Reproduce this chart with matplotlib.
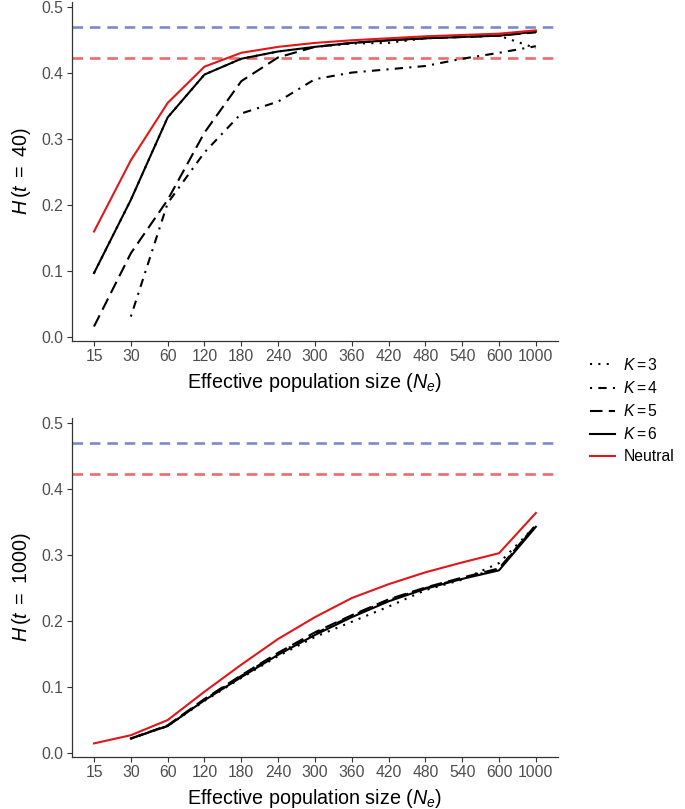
import numpy as np
import matplotlib
matplotlib.use('Agg')
import matplotlib.pyplot as plt

plt.rcParams['font.family'] = ['Liberation Sans', 'DejaVu Sans']
plt.rcParams['mathtext.fontset'] = 'custom'
plt.rcParams['mathtext.rm'] = 'Liberation Sans'
plt.rcParams['mathtext.it'] = 'Liberation Sans:italic'

# categories on x axis (effective population size)
ne_labels = ['15', '30', '60', '120', '180', '240', '300', '360', '420', '480', '540', '600', '1000']
nan = np.nan

# panel 1: H(t = 40)
neutral_40 = [0.160, 0.268, 0.355, 0.410, 0.431, 0.440, 0.446, 0.450, 0.453, 0.456, 0.458, 0.460, 0.465]
k6_40 = [0.097, 0.208, 0.333, 0.398, 0.422, 0.433, 0.440, 0.446, 0.450, 0.453, 0.455, 0.457, 0.463]
k5_40 = [0.016, 0.127, 0.208, 0.310, 0.388, 0.424, 0.440, 0.446, 0.450, 0.453, 0.455, 0.457, 0.462]
k4_40 = [nan, 0.031, 0.203, 0.280, 0.339, 0.357, 0.391, 0.401, 0.406, 0.411, 0.422, 0.431, 0.441]
k3_40 = [0.097, 0.208, 0.333, 0.398, 0.422, 0.433, 0.440, 0.445, 0.446, 0.453, 0.455, 0.457, 0.438]

# panel 2: H(t = 1000)
neutral_1000 = [0.0146, 0.027, 0.050, 0.093, 0.134, 0.173, 0.206, 0.235, 0.256, 0.274, 0.289, 0.303, 0.364]
k6_1000 = [nan, 0.022, 0.041, 0.080, 0.115, 0.149, 0.179, 0.206, 0.230, 0.249, 0.264, 0.277, 0.343]
k5_1000 = [nan, 0.022, 0.042, 0.082, 0.118, 0.152, 0.183, 0.209, 0.233, 0.251, 0.266, 0.280, 0.346]
k4_1000 = [nan, 0.022, 0.041, 0.081, 0.117, 0.151, 0.181, 0.208, 0.232, 0.250, 0.265, 0.279, 0.345]
k3_1000 = [nan, 0.022, 0.041, 0.079, 0.114, 0.147, 0.176, 0.199, 0.222, 0.247, 0.263, 0.288, 0.345]

# reference levels (dashed horizontal lines)
h_blue = 0.470
h_red = 0.4225

styles = {
    'K3': dict(color='black', lw=1.5, ls=(0, (1, 3)), label=r'$K = 3$'),
    'K4': dict(color='black', lw=1.5, ls=(0, (1, 3, 4, 3)), label=r'$K = 4$'),
    'K5': dict(color='black', lw=1.5, ls=(0, (6, 3)), label=r'$K = 5$'),
    'K6': dict(color='black', lw=1.5, ls='-', label=r'$K = 6$'),
    'N': dict(color='#E0161B', lw=1.5, ls='-', label='Neutral'),
}

fig = plt.figure(figsize=(6.85, 8.09), dpi=100)
ax1 = fig.add_axes([0.105, 0.5785, 0.7095, 0.419])
ax2 = fig.add_axes([0.105, 0.0643, 0.7095, 0.419])

x = np.arange(1, len(ne_labels) + 1)

panels = [
    (ax1, [k3_40, k4_40, k5_40, k6_40, neutral_40], r'$H\,(t\ =\ 40)$'),
    (ax2, [k3_1000, k4_1000, k5_1000, k6_1000, neutral_1000], r'$H\,(t\ =\ 1000)$'),
]

for ax, series, ylab in panels:
    ax.axhline(h_blue, color='#7F88C8', lw=1.9, ls=(0, (4, 2.6)))
    ax.axhline(h_red, color='#EE6A6A', lw=1.9, ls=(0, (4, 2.6)))
    for key, y in zip(['K3', 'K4', 'K5', 'K6', 'N'], series):
        st = styles[key]
        ax.plot(x, y, color=st['color'], lw=st['lw'], linestyle=st['ls'], label=st['label'])
    ax.set_xlim(0.4, len(ne_labels) + 0.6)
    ax.set_ylim(-0.006, 0.508)
    ax.set_xticks(x)
    ax.set_xticklabels(ne_labels)
    ax.set_yticks([0.0, 0.1, 0.2, 0.3, 0.4, 0.5])
    ax.set_yticklabels(['0.0', '0.1', '0.2', '0.3', '0.4', '0.5'])
    ax.tick_params(axis='both', labelsize=11.3, labelcolor='#4D4D4D', color='#333333',
                   length=3.5, width=0.8, pad=2.5)
    for s in ['top', 'right']:
        ax.spines[s].set_visible(False)
    for s in ['left', 'bottom']:
        ax.spines[s].set_color('#333333')
        ax.spines[s].set_linewidth(0.9)
    ax.set_xlabel(r'Effective population size ($N_e$)', fontsize=14.2, labelpad=4.5)
    ax.set_ylabel(ylab, fontsize=14.2, labelpad=6)

handles, labels = ax1.get_legend_handles_labels()
fig.legend(handles, labels, loc='center left', bbox_to_anchor=(0.84, 0.4925),
           frameon=False, fontsize=11.3, handlelength=1.6, labelspacing=0.45,
           handletextpad=0.55)

plt.savefig('out.png', dpi=100)
